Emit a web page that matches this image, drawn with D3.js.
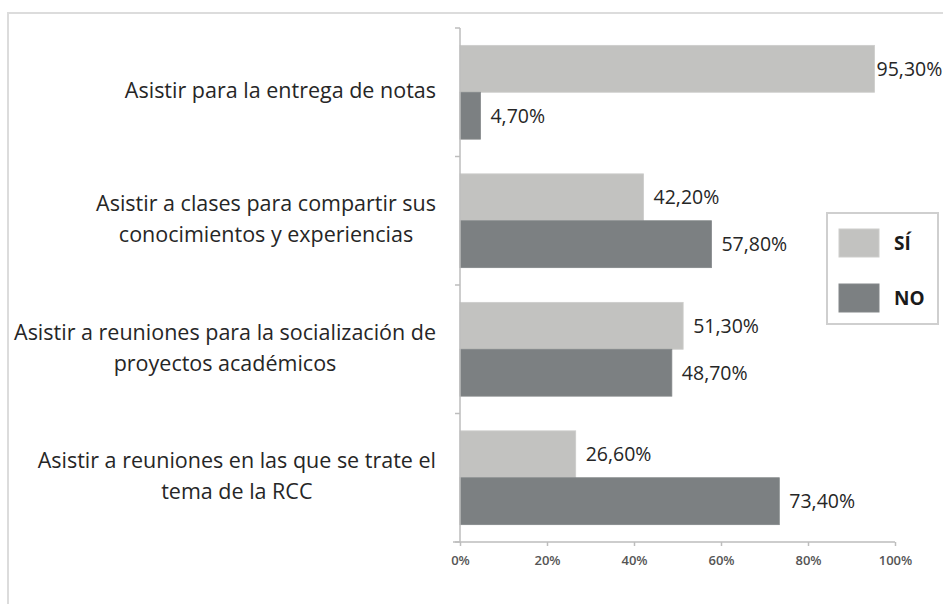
<!DOCTYPE html>
<html>
<head>
<meta charset="utf-8">
<script src="https://cdn.jsdelivr.net/npm/d3@7"></script>
<style>
  body { margin: 0; background: #fff; }
  svg { display: block; }
</style>
</head>
<body>
<svg id="chart" width="943" height="604"></svg>
<script>
// datos
const categorias = [
  ['Asistir para la entrega de notas'],
  ['Asistir a clases para compartir sus', 'conocimientos y experiencias'],
  ['Asistir a reuniones para la socialización de', 'proyectos académicos'],
  ['Asistir a reuniones en las que se trate el', 'tema de la RCC']
];
const series = ['SÍ', 'NO'];
const valoresSi = [95.3, 42.2, 51.3, 26.6];
const valoresNo = [4.7, 57.8, 48.7, 73.4];
const ticksX = [0, 20, 40, 60, 80, 100];
const colores = { 'SÍ': '#c2c2c0', 'NO': '#7c8082' };

const svg = d3.select('#chart');
const fuente = '"Open Sans", "DejaVu Sans", sans-serif';

const dims = { left: 460, right: 895, top: 28, bottom: 542 };

// marco exterior
svg.append('rect')
  .attr('x', 8).attr('y', 13)
  .attr('width', 960).attr('height', 620)
  .attr('fill', 'none')
  .attr('stroke', '#dcdcdc')
  .attr('stroke-width', 2);

const x = d3.scaleLinear().domain([0, 100]).range([dims.left, dims.right]);
const y = d3.scaleBand()
  .domain(d3.range(categorias.length))
  .range([dims.top, dims.bottom]);
const y1 = d3.scaleBand()
  .domain(series)
  .range([0, y.bandwidth()])
  .paddingOuter(0.37);

const datos = categorias.map((c, i) => ({
  i,
  valores: [{ s: 'SÍ', v: valoresSi[i] }, { s: 'NO', v: valoresNo[i] }]
}));

// barras
const grupos = svg.selectAll('.cat')
  .data(datos)
  .enter()
  .append('g')
  .attr('class', 'cat')
  .attr('transform', d => `translate(0,${y(d.i)})`);

grupos.selectAll('rect')
  .data(d => d.valores)
  .enter()
  .append('rect')
  .attr('x', x(0))
  .attr('y', d => y1(d.s))
  .attr('width', d => x(d.v) - x(0))
  .attr('height', y1.bandwidth())
  .attr('fill', d => colores[d.s])
  .attr('stroke', d => d3.color(colores[d.s]).brighter(0.15))
  .attr('stroke-width', 0.8);

grupos.selectAll('.valor')
  .data(d => d.valores)
  .enter()
  .append('text')
  .attr('class', 'valor')
  .attr('x', d => x(d.v) + (d.v > 90 ? 2 : 10))
  .attr('y', d => y1(d.s) + y1.bandwidth() / 2)
  .attr('dy', '0.35em')
  .attr('font-family', fuente)
  .attr('font-size', 19.5)
  .attr('font-weight', 500)
  .attr('fill', '#262626')
  .text(d => d.v.toFixed(2).replace('.', ',') + '%');

// eje x
const ejeX = d3.axisBottom(x)
  .tickValues(ticksX)
  .tickFormat(d => d + '%')
  .tickSize(4)
  .tickSizeOuter(0);
const gx = svg.append('g')
  .attr('transform', `translate(0,${dims.bottom})`)
  .call(ejeX);
gx.select('.domain').attr('stroke', '#bdbdbd').attr('stroke-width', 1.5)
  .attr('d', `M${dims.left - 7},0H${dims.right}`);
gx.selectAll('.tick line').attr('stroke', '#bdbdbd').attr('stroke-width', 1.5);
gx.selectAll('.tick text')
  .attr('y', 14)
  .attr('font-family', fuente)
  .attr('font-size', 13)
  .attr('font-weight', 600)
  .attr('fill', '#555');

// eje y (solo marcas entre categorias)
const limites = d3.range(categorias.length + 1).map(i => dims.top + i * y.step());
const gy = svg.append('g');
gy.append('line')
  .attr('x1', dims.left).attr('x2', dims.left)
  .attr('y1', dims.top).attr('y2', dims.bottom)
  .attr('stroke', '#bdbdbd').attr('stroke-width', 1.5);
gy.selectAll('.marca')
  .data(limites)
  .enter()
  .append('line')
  .attr('x1', dims.left - 5).attr('x2', dims.left)
  .attr('y1', d => d).attr('y2', d => d)
  .attr('stroke', '#bdbdbd').attr('stroke-width', 1.5);

// etiquetas de categorias
const altoLinea = 31;
svg.selectAll('.etq')
  .data(datos)
  .enter()
  .append('text')
  .attr('class', 'etq')
  .attr('font-family', fuente)
  .attr('font-size', 21.5)
  .attr('font-weight', 500)
  .attr('fill', '#262626')
  .attr('text-anchor', 'middle')
  .each(function (d) {
    const lineas = categorias[d.i];
    const t = d3.select(this);
    const cy = y(d.i) + y.bandwidth() / 2 - 1.5;
    lineas.forEach((l, k) => {
      t.append('tspan')
        .attr('y', cy + (k - (lineas.length - 1) / 2) * altoLinea)
        .attr('dy', '0.35em')
        .text(l);
    });
    // bloque alineado a la derecha, lineas centradas entre si
    const ancho = d3.max(t.selectAll('tspan').nodes(), n => n.getComputedTextLength());
    t.selectAll('tspan').attr('x', dims.left - 24 - ancho / 2);
  });

// leyenda
const ley = svg.append('g').attr('transform', 'translate(827,213)');
ley.append('rect')
  .attr('width', 111).attr('height', 111)
  .attr('fill', '#fff')
  .attr('stroke', '#cfcfcf').attr('stroke-width', 2);
const items = ley.selectAll('.item')
  .data(series)
  .enter()
  .append('g')
  .attr('transform', (d, i) => `translate(12,${16 + i * 55})`);
items.append('rect')
  .attr('width', 40).attr('height', 28)
  .attr('fill', d => colores[d])
  .attr('stroke', d => d3.color(colores[d]).brighter(0.15));
items.append('text')
  .attr('x', 55).attr('y', 14).attr('dy', '0.35em')
  .attr('font-family', fuente)
  .attr('font-size', 19)
  .attr('font-weight', 700)
  .attr('fill', '#1a1a1a')
  .text(d => d);
</script>
</body>
</html>
